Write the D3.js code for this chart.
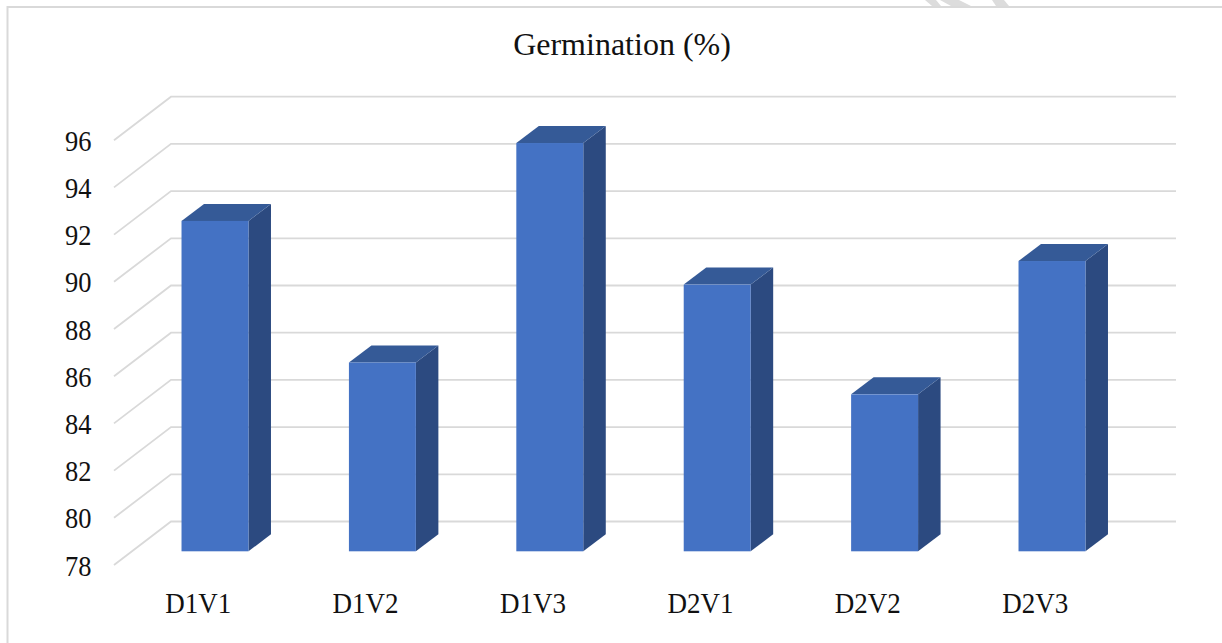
<!DOCTYPE html>
<html>
<head>
<meta charset="utf-8">
<script src="https://cdn.jsdelivr.net/npm/d3@7"></script>
<style>
html, body { margin: 0; padding: 0; background: #fff; }
svg { display: block; }
</style>
</head>
<body>
<div id="chart"></div>
<script>
var categories = ["D1V1", "D1V2", "D1V3", "D2V1", "D2V2", "D2V3"];
var germination = [92, 86, 95.3, 89.3, 84.65, 90.3];
var yTicks = [78, 80, 82, 84, 86, 88, 90, 92, 94, 96];
var chartTitle = "Germination (%)";

document.addEventListener("DOMContentLoaded", function() {
    var width = 1222, height = 643;
    var font = "'Liberation Serif', 'Times New Roman', serif";

    // oblique offsets of the fake 3D chart
    var wallDy = -43.5;
    var barDx = 22.5, barDy = -17;

    var svg = d3.select("#chart")
        .append("svg")
            .attr("width", width)
            .attr("height", height);

    // bits of a watermark poking in above the frame
    svg.append("g")
        .selectAll("path")
        .data(["M925,0H936L941,6H932Z", "M940,0H959L971,6H951Z", "M992,0H1004L1009,6H996Z"])
        .enter().append("path")
        .attr("d", function(d) { return d; })
        .attr("fill", "#dcdcdc");

    // outer chart frame, open at the bottom and right
    svg.append("path")
        .attr("d", "M7.5,643V7H1222")
        .attr("fill", "none")
        .attr("stroke", "#d9d9d9")
        .attr("stroke-width", 2);

    // scale in the plane of the bar fronts
    var y = d3.scaleLinear()
        .domain([78, 96])
        .range([551.3, 126.5]);

    var x = d3.scaleBand()
        .domain(categories)
        .range([131.3, 1135.7])
        .paddingInner(0.6)
        .paddingOuter(0.3);

    // the labels sit slightly left of the bars
    var xLabel = d3.scaleBand()
        .domain(categories)
        .range([114.5, 1118.9]);

    // gridlines: short diagonal on the side wall, then along the back wall
    var frontY = d3.scaleLinear().domain([78, 96]).range([565, 140.2]);

    svg.append("g")
        .attr("class", "grid")
        .selectAll("path")
        .data(yTicks)
        .enter().append("path")
        .attr("d", function(d) {
            return "M114," + frontY(d) + "L171," + (frontY(d) + wallDy) + "H1176";
        })
        .attr("fill", "none")
        .attr("stroke", "#d9d9d9")
        .attr("stroke-width", 1.8);

    // the source picture is stretched a bit vertically, so the text is too
    svg.append("g")
        .attr("class", "axis axis--y")
        .selectAll("text")
        .data(yTicks)
        .enter().append("text")
        .attr("transform", function(d) {
            return "translate(91.5," + (frontY(d) + 10.5) + ") scale(1,1.1)";
        })
        .style("text-anchor", "end")
        .style("font-family", font)
        .style("font-size", "26.5px")
        .style("fill", "#111")
        .text(function(d) { return d; });

    svg.append("g")
        .attr("class", "axis axis--x")
        .selectAll("text")
        .data(categories)
        .enter().append("text")
        .attr("transform", function(d) {
            return "translate(" + (xLabel(d) + xLabel.bandwidth() / 2) + ",612.5) scale(1,1.07)";
        })
        .style("text-anchor", "middle")
        .style("font-family", font)
        .style("font-size", "27px")
        .style("fill", "#111")
        .text(function(d) { return d; });

    // Add bars to the chart
    var bars = svg.selectAll(".bar")
        .data(categories)
        .enter().append("g")
        .attr("class", "bar");

    // right side face
    bars.append("path")
        .attr("fill", "#2c4a80")
        .attr("d", function(d, i) {
            var x1 = x(d) + x.bandwidth(), top = y(germination[i]), base = y(78);
            return "M" + x1 + "," + top + "l" + barDx + "," + barDy +
                "V" + (base + barDy) + "L" + x1 + "," + base + "Z";
        });

    // top face
    bars.append("path")
        .attr("fill", "#355a97")
        .attr("d", function(d, i) {
            var x0 = x(d), top = y(germination[i]);
            return "M" + x0 + "," + top + "l" + barDx + "," + barDy +
                "h" + x.bandwidth() + "l" + (-barDx) + "," + (-barDy) + "Z";
        });

    // front face
    bars.append("rect")
        .attr("fill", "#4472c4")
        .attr("x", function(d) { return x(d); })
        .attr("y", function(d, i) { return y(germination[i]); })
        .attr("width", x.bandwidth())
        .attr("height", function(d, i) { return y(78) - y(germination[i]); });

    // Chart title
    svg.append("text")
        .attr("x", 622)
        .attr("y", 54.5)
        .style("text-anchor", "middle")
        .style("font-family", font)
        .style("font-size", "32px")
        .style("fill", "#111")
        .text(chartTitle);
});
</script>
</body>
</html>
